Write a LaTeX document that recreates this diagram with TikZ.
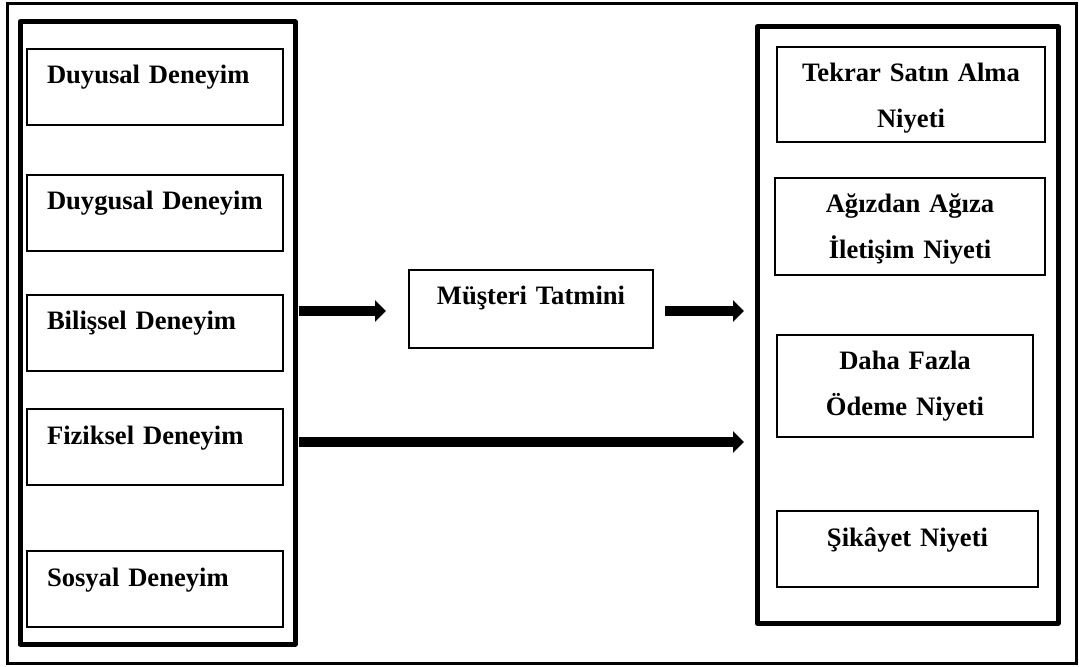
\documentclass[tikz,border=0pt]{standalone}
\usepackage{fontspec}
\setmainfont{Liberation Serif}
\usetikzlibrary{arrows.meta}

\tikzset{
	grp/.style={draw, line width=2.5pt, line join=round, outer sep=0pt, inner sep=0pt, anchor=north west},
	lbox/.style={draw, line width=0.8pt, outer sep=0pt, anchor=north west, inner xsep=10pt, inner ysep=0pt,
		text width=108pt, align=left, text height=17.5pt, text depth=20.5pt},
	rbox/.style={draw, line width=0.8pt, outer sep=0pt, anchor=north west, inner xsep=5pt, inner ysep=0pt,
		align=center, text height=17.5pt},
	bigarrow/.style={line width=5pt, -{Triangle[length=5.5pt, width=10.5pt]}}
}

\begin{document}
\begin{tikzpicture}
	[
		x=0.5pt, y=-0.5pt,
		every node/.style={font=\bfseries\fontsize{13.3}{23}\selectfont}
	]
	\useasboundingbox (0,0) rectangle (1079,667);
	\draw[line width=1.5pt] (7,4) rectangle (1076,663);

	% groups
	\node[grp, minimum width=137.5pt, minimum height=311pt] (lgrp) at (20,22) {};
	\node[grp, minimum width=150.5pt, minimum height=298pt] (rgrp) at (757,27) {};

	% experiences
	\node[lbox] (duy) at (27,49) {Duyusal Deneyim};
	\node[lbox] (duyg) at (27,175) {Duygusal Deneyim};
	\node[lbox] (bil) at (27,295) {Bilişsel Deneyim};
	\node[lbox] (fiz) at (27,409) {Fiziksel Deneyim};
	\node[lbox] (sos) at (27,551) {Sosyal Deneyim};

	% satisfaction
	\node[rbox, text width=112pt, text depth=21.5pt] (mt) at (409,270) {Müşteri Tatmini};

	% intentions
	\node[rbox, text width=124pt, text depth=30pt] (tek) at (777,47) {Tekrar Satın Alma\\Niyeti};
	\node[rbox, text width=125pt, text depth=31pt] (agz) at (775,178) {Ağızdan Ağıza\\İletişim Niyeti};
	\node[rbox, text width=118pt, text depth=33.5pt] (ode) at (777,335) {Daha Fazla\\Ödeme Niyeti};
	\node[rbox, text width=120.5pt, text depth=20.5pt] (sik) at (777,511) {Şikâyet Niyeti};

	\draw[bigarrow, shorten <=2pt, shorten >=11.5pt] ([yshift=-1pt]mt.west -| lgrp.east) -- ([yshift=-1pt]mt.west);
	\draw[bigarrow, shorten <=6pt, shorten >=6.5pt] ([yshift=-1pt]mt.east) -- ([yshift=-1pt]mt.east -| rgrp.west);
	\draw[bigarrow, shorten <=2pt, shorten >=6.5pt] ([yshift=2.5pt]fiz.east -| lgrp.east) -- ([yshift=2.5pt]fiz.east -| rgrp.west);
\end{tikzpicture}
\end{document}
